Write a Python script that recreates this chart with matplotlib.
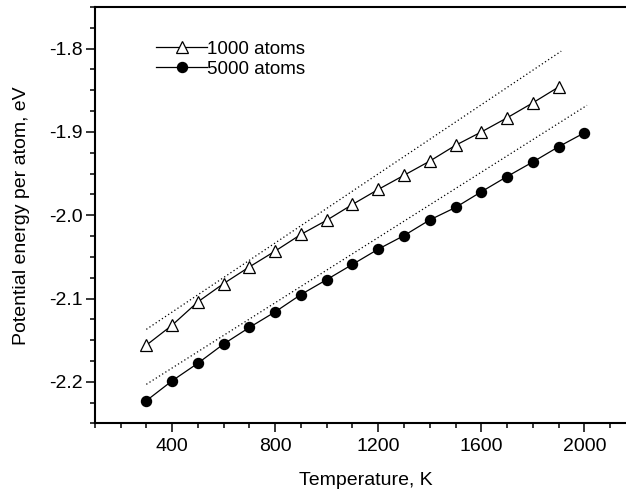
import matplotlib
matplotlib.use("Agg")
import matplotlib.pyplot as plt
from matplotlib.ticker import MultipleLocator, FormatStrFormatter

plt.rcParams['font.family'] = ['Liberation Sans', 'DejaVu Sans']

# Data
T_1000 = [300, 400, 500, 600, 700, 800, 900, 1000, 1100, 1200, 1300, 1400,
          1500, 1600, 1700, 1800, 1900]
E_1000 = [-2.156, -2.132, -2.104, -2.082, -2.062, -2.043, -2.023, -2.006,
          -1.987, -1.969, -1.952, -1.935, -1.916, -1.900, -1.883, -1.865, -1.846]
T_5000 = [300, 400, 500, 600, 700, 800, 900, 1000, 1100, 1200, 1300, 1400,
          1500, 1600, 1700, 1800, 1900, 2000]
E_5000 = [-2.2227, -2.1988, -2.1777, -2.1546, -2.1347, -2.116, -2.0952, -2.0773,
          -2.059, -2.0407, -2.0244, -2.0056, -1.9906, -1.9718, -1.9535, -1.936,
          -1.9177, -1.901]
FIT_1000_T = [300, 1910]
FIT_1000_E = [-2.137, -1.803]
FIT_5000_T = [300, 2010]
FIT_5000_E = [-2.203, -1.868]
labels = ["1000 atoms", "5000 atoms"]

fig = plt.figure(figsize=(6.26, 4.91), dpi=100)
ax = fig.add_axes([0.1514, 0.1375, 0.8645, 0.8482])

ax.plot(FIT_1000_T, FIT_1000_E, color='black', lw=0.9, ls=(0, (1, 2)))
ax.plot(FIT_5000_T, FIT_5000_E, color='black', lw=0.9, ls=(0, (1, 2)))
ax.plot(T_1000, E_1000, color='black', lw=0.9, marker='^', ms=8,
        mfc='white', mec='black', mew=0.9, label=labels[0])
ax.plot(T_5000, E_5000, color='black', lw=0.9, marker='o', ms=7.2,
        mfc='black', mec='black', label=labels[1])

ax.set_xlim(100, 2200)
ax.set_ylim(-2.25, -1.75)
ax.xaxis.set_major_locator(MultipleLocator(400))
ax.xaxis.set_minor_locator(MultipleLocator(100))
ax.yaxis.set_major_locator(MultipleLocator(0.1))
ax.yaxis.set_minor_locator(MultipleLocator(0.025))
ax.yaxis.set_major_formatter(FormatStrFormatter('%.1f'))

for s in ax.spines.values():
    s.set_linewidth(1.5)
ax.tick_params(which='major', direction='out', length=6.5, width=1.1,
               labelsize=14, top=False, right=False)
ax.tick_params(which='minor', direction='out', length=3.6, width=1.1,
               top=False, right=False)
ax.tick_params(axis='x', which='major', pad=4)
ax.tick_params(axis='y', which='major', pad=2)

ax.set_xlabel("Temperature, K", fontsize=14, labelpad=12)
ax.set_ylabel("Potential energy per atom, eV", fontsize=14, labelpad=14)

leg = ax.legend(loc='upper left', bbox_to_anchor=(0.1, 0.937), frameon=False,
                fontsize=13.5, handlelength=2.7, handletextpad=0.0,
                labelspacing=0.15, borderaxespad=0)

fig.savefig("out.png", dpi=100)
